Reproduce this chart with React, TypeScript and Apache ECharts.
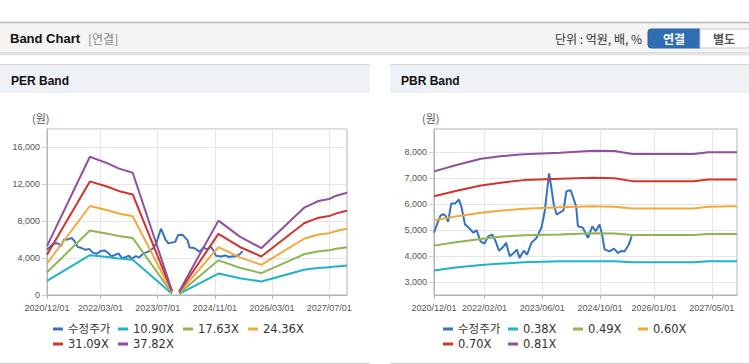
import React, { useEffect, useRef } from 'react';
import * as echarts from 'echarts';

// x positions are months since 2020/12/01
const X_MAX = 84;
const perLabelMonths = [0, 15, 31, 47, 63, 79];
const pbrLabelMonths = [0, 14, 30, 46, 61, 77];
const pbrYTicks = [3000, 4000, 5000, 6000, 7000, 8000];

// 수정주가 (adjusted price), shared by both charts
const priceMonth = [0, 0.9, 1.8, 2.6, 3.3, 3.9, 4.8, 5.9, 6.9, 7.6, 8.6, 9.7, 10.9, 11.8, 12.9, 14, 15, 16.2, 17.1, 18, 19.1, 20, 21, 22.1, 23, 23.7, 24.9, 25.8, 27, 28.4, 29.8, 30.7, 31.9, 32.4, 33.2, 34, 35.9, 36.7, 37.9, 39.4, 39.9, 41.2, 42.7, 43.9, 44.8, 45.9, 46.6, 47.3, 48.7, 49.9, 51, 52, 52.8, 54, 54.8];
const price = [4900, 5250, 5560, 5620, 5540, 5320, 6030, 6030, 6180, 5900, 5220, 5090, 4900, 5000, 4570, 4480, 4760, 4830, 4570, 4210, 4340, 4510, 3990, 4120, 4250, 3930, 4210, 4060, 4510, 4700, 5100, 5730, 7190, 6760, 5990, 5600, 5760, 6500, 6540, 5920, 5150, 5100, 4700, 5150, 4960, 5220, 4830, 4250, 4180, 4290, 4120, 4200, 4180, 4440, 4760];

// PER bands
const perMonth = [0, 12, 17, 20, 24, 35, 36, 37, 48, 54, 60, 72, 74, 76, 79, 81, 84];
const per1090 = [1527, 4319, 4113, 3957, 3820, 134, null, 112, 2324, 1826, 1464, 2729, 2835, 2938, 3000, 3103, 3196];
const per1763 = [2471, 6986, 6653, 6401, 6180, 217, null, 182, 3760, 2953, 2368, 4415, 4585, 4752, 4853, 5020, 5171];
const per2436 = [3414, 9652, 9191, 8844, 8538, 300, null, 251, 5195, 4080, 3272, 6100, 6335, 6566, 6705, 6935, 7190];
const per3109 = [4357, 12319, 11732, 11287, 10898, 382, null, 321, 6630, 5208, 4176, 7785, 8086, 8380, 8558, 8852, 9140];
const per3782 = [5300, 14985, 14270, 13730, 13256, 465, null, 390, 8065, 6335, 5080, 9470, 9836, 10194, 10410, 10767, 11091];

// PBR bands
const pbrMonth = [0, 6, 13, 19, 25, 35, 44, 50, 55, 72, 76, 84];
const pbr038 = [3449, 3560, 3657, 3710, 3758, 3797, 3797, 3797, 3758, 3758, 3797, 3797];
const pbr049 = [4404, 4537, 4663, 4755, 4800, 4835, 4879, 4870, 4816, 4816, 4856, 4856];
const pbr060 = [5382, 5530, 5668, 5760, 5823, 5880, 5923, 5900, 5834, 5834, 5900, 5920];
const pbr070 = [6310, 6510, 6724, 6840, 6929, 6983, 7022, 7000, 6890, 6890, 6956, 6956];
const pbr081 = [7265, 7500, 7756, 7860, 7923, 7988, 8066, 8050, 7935, 7935, 8000, 8000];

const perNames = ['수정주가', '10.90X', '17.63X', '24.36X', '31.09X', '37.82X'];
const pbrNames = ['수정주가', '0.38X', '0.49X', '0.60X', '0.70X', '0.81X'];
const colors = ['#3572c2', '#20b2c6', '#8db653', '#f3a83b', '#d2332d', '#914f9f'];

const LATIN = "'Liberation Sans', Arial, 'Noto Sans CJK KR', sans-serif";
const LEGEND_FONT = "'DejaVu Sans', 'Noto Sans CJK KR', sans-serif";
const KR = "'Noto Sans CJK KR', 'Liberation Sans', sans-serif";

const fmtMonth = (v: number) => {
  const total = 2020 * 12 + 11 + Math.round(v);
  const y = Math.floor(total / 12);
  const m = (total % 12) + 1;
  return `${y}/${m < 10 ? '0' + m : m}/01`;
};
const fmtNum = (v: number) => Number(v).toLocaleString('en-US');

const pairs = (xs: number[], ys: (number | null)[]) =>
  xs.map((x, i) => [x, ys[i] === null ? '-' : ys[i]]);

function lineSeries(name: string, color: string, data: any[], idx: number) {
  return {
    type: 'line',
    name,
    xAxisIndex: idx,
    yAxisIndex: idx,
    data,
    showSymbol: false,
    symbol: 'none',
    connectNulls: false,
    lineStyle: { color, width: 2 },
    itemStyle: { color },
    emphasis: { disabled: true },
  };
}

function xAxisCfg(gridIndex: number, labels: number[]) {
  return {
    type: 'value',
    gridIndex,
    min: 0,
    max: X_MAX,
    axisLine: { show: true, lineStyle: { color: '#b4b4b4' } },
    axisTick: { show: true, length: 4, customValues: labels, lineStyle: { color: '#b4b4b4' } },
    axisLabel: {
      customValues: labels,
      formatter: fmtMonth,
      fontSize: 9,
      color: '#555',
      fontFamily: LATIN,
      margin: 8,
    },
    splitLine: { show: true, lineStyle: { color: '#e6e6e6' } },
  };
}

function header(x: number, w: number, title: string) {
  return [
    { type: 'line', shape: { x1: x, y1: 64.5, x2: x + w, y2: 64.5 }, style: { stroke: '#d9d9d9', lineWidth: 1 } },
    { type: 'rect', shape: { x, y: 65, width: w, height: 28 }, style: { fill: '#eef2f7' } },
    { type: 'text', x: x + 11, y: 81, style: { text: title, fill: '#111', font: `bold 12px ${LATIN}`, textVerticalAlign: 'middle' } },
    { type: 'text', x: x + 32, y: 118, style: { text: '(원)', fill: '#555', font: `11px ${KR}`, textVerticalAlign: 'middle' } },
    { type: 'line', shape: { x1: x, y1: 363.5, x2: x + w, y2: 363.5 }, style: { stroke: '#cfcfcf', lineWidth: 1 } },
  ];
}

export default function App() {
  const ref = useRef<HTMLDivElement>(null);
  useEffect(() => {
    if (!ref.current) return;
    const chart = echarts.init(ref.current, undefined, { renderer: 'svg' });
    const pricePairs = pairs(priceMonth, price);
    const perBands = [per1090, per1763, per2436, per3109, per3782];
    const pbrBands = [pbr038, pbr049, pbr060, pbr070, pbr081];

    const series: any[] = [];
    series.push(lineSeries(perNames[0], colors[0], pricePairs, 0));
    perBands.forEach((b, i) => series.push(lineSeries(perNames[i + 1], colors[i + 1], pairs(perMonth, b), 0)));
    series.push(lineSeries(pbrNames[0], colors[0], pricePairs, 1));
    pbrBands.forEach((b, i) => series.push(lineSeries(pbrNames[i + 1], colors[i + 1], pairs(pbrMonth, b), 1)));

    const legendBase = {
      top: 323,
      width: 270,
      padding: 0,
      icon: 'rect',
      itemWidth: 10,
      itemHeight: 3,
      itemGap: 3,
      selectedMode: false,
      textStyle: { fontSize: 11.5, color: '#333', width: 47, lineHeight: 12, fontFamily: LEGEND_FONT },
    };

    const option: any = {
      animation: false,
      backgroundColor: '#ffffff',
      grid: [
        { left: 47, top: 129, width: 300, height: 166, show: true, borderColor: '#b4b4b4', borderWidth: 1, backgroundColor: 'rgba(0,0,0,0)' },
        { left: 434, top: 129, width: 303, height: 166, show: true, borderColor: '#b4b4b4', borderWidth: 1, backgroundColor: 'rgba(0,0,0,0)' },
      ],
      xAxis: [xAxisCfg(0, perLabelMonths), xAxisCfg(1, pbrLabelMonths)],
      yAxis: [
        {
          type: 'value',
          gridIndex: 0,
          min: 0,
          max: 18000,
          interval: 4000,
          axisLine: { show: true, lineStyle: { color: '#b4b4b4' } },
          axisTick: { show: true, length: 5, lineStyle: { color: '#d0d0d0' } },
          axisLabel: { showMaxLabel: false, formatter: fmtNum, fontSize: 9, color: '#555', fontFamily: LATIN, margin: 7 },
          splitLine: { show: true, lineStyle: { color: '#e6e6e6' } },
        },
        {
          type: 'value',
          gridIndex: 1,
          min: 2500,
          max: 8900,
          axisLine: { show: true, lineStyle: { color: '#b4b4b4' } },
          axisTick: { show: true, length: 5, customValues: pbrYTicks, lineStyle: { color: '#d0d0d0' } },
          axisLabel: { customValues: pbrYTicks, formatter: fmtNum, fontSize: 9, color: '#555', fontFamily: LATIN, margin: 7 },
          splitLine: { show: true, lineStyle: { color: '#e6e6e6' } },
        },
      ],
      legend: [
        { ...legendBase, left: 53, data: perNames },
        { ...legendBase, left: 443, data: pbrNames },
      ],
      graphic: [
        // top bar
        { type: 'rect', shape: { x: 0, y: 22, width: 749, height: 31 }, style: { fill: '#f4f4f4' } },
        { type: 'line', shape: { x1: 0, y1: 22.5, x2: 749, y2: 22.5 }, style: { stroke: '#b9b9b9', lineWidth: 1.5 } },
        { type: 'line', shape: { x1: 0, y1: 53, x2: 749, y2: 53 }, style: { stroke: '#c4c4c4', lineWidth: 1 } },
        { type: 'line', shape: { x1: 0, y1: 54.5, x2: 749, y2: 54.5 }, style: { stroke: '#e6e6e6', lineWidth: 2 } },
        { type: 'text', x: 10, y: 38.5, style: { text: 'Band Chart', fill: '#111', font: `bold 13px ${LATIN}`, textVerticalAlign: 'middle' } },
        { type: 'text', x: 88, y: 38.5, style: { text: '[연결]', fill: '#888', font: `12px ${KR}`, textVerticalAlign: 'middle' } },
        { type: 'text', x: 642, y: 38.5, style: { text: '단위 : 억원, 배, %', fill: '#333', font: `12px ${KR}`, textAlign: 'right', textVerticalAlign: 'middle' } },
        { type: 'rect', shape: { x: 648, y: 29, width: 52, height: 19, r: [3, 0, 0, 3] }, style: { fill: '#2f6db5', stroke: '#2a62a3', lineWidth: 1 } },
        { type: 'text', x: 674, y: 38.5, style: { text: '연결', fill: '#ffffff', font: `bold 12px ${KR}`, textAlign: 'center', textVerticalAlign: 'middle' } },
        { type: 'rect', shape: { x: 700, y: 29, width: 49.5, height: 19, r: [0, 3, 3, 0] }, style: { fill: '#ffffff', stroke: '#c8c8c8', lineWidth: 1 } },
        { type: 'text', x: 724, y: 38.5, style: { text: '별도', fill: '#555', font: `bold 12px ${KR}`, textAlign: 'center', textVerticalAlign: 'middle' } },
        ...header(0, 370, 'PER Band'),
        ...header(390, 359, 'PBR Band'),
      ],
      series,
    };
    chart.setOption(option);
    return () => chart.dispose();
  }, []);
  return <div ref={ref} style={{ position: 'absolute', left: 0, top: 0, width: 749, height: 364 }} />;
}
